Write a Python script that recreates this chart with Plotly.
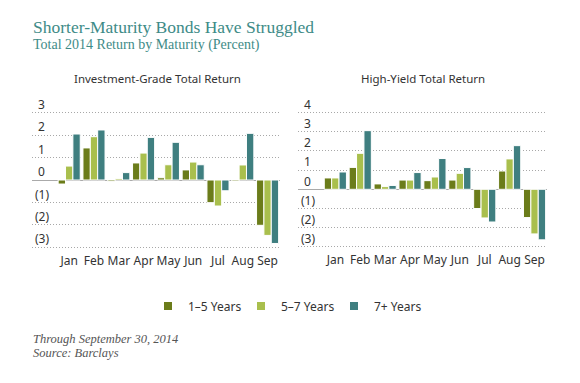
import plotly.graph_objects as go

months = ["Jan", "Feb", "Mar", "Apr", "May", "Jun", "Jul", "Aug", "Sep"]
series_names = ["1\u20135 Years", "5\u20137 Years", "7+ Years"]
colors = ["#6b7c1a", "#a9bf4d", "#3f7f80"]

ig_1_5 = [-0.18, 1.43, -0.06, 0.76, 0.10, 0.45, -1.01, -0.05, -2.02]
ig_5_7 = [0.62, 1.93, 0.07, 1.20, 0.68, 0.80, -1.16, 0.67, -2.47]
ig_7p = [2.05, 2.23, 0.33, 1.90, 1.68, 0.68, -0.48, 2.08, -2.83]

hy_1_5 = [0.59, 1.14, 0.28, 0.48, 0.45, 0.48, -1.00, 0.95, -1.47]
hy_5_7 = [0.59, 1.87, 0.14, 0.48, 0.64, 0.83, -1.49, 1.58, -2.32]
hy_7p = [0.90, 3.05, 0.20, 0.87, 1.60, 1.13, -1.70, 2.27, -2.63]

ig_ticks = [3, 2, 1, 0, -1, -2, -3]
hy_ticks = [4, 3, 2, 1, 0, -1, -2, -3]


def tick_text(v):
    return "(%d)" % abs(v) if v < 0 else "\u00a0%d" % v


# page is offset by the 8px body margin
OFF = 8
W, H = 580 - OFF, 383 - OFF


def px(x):
    return (x - OFF) / W


def py(y):
    return (H - (y - OFF)) / H


fig = go.Figure()

for i, (name, vals) in enumerate(zip(series_names, [ig_1_5, ig_5_7, ig_7p])):
    fig.add_trace(go.Bar(x=months, y=vals, name=name, marker=dict(color=colors[i], line=dict(color="white", width=1)),
                         showlegend=False, xaxis="x", yaxis="y"))
for i, (name, vals) in enumerate(zip(series_names, [hy_1_5, hy_5_7, hy_7p])):
    fig.add_trace(go.Bar(x=months, y=vals, name=name, marker=dict(color=colors[i], line=dict(color="white", width=1)),
                         showlegend=False, xaxis="x2", yaxis="y2"))
# legend entries
for i, name in enumerate(series_names):
    fig.add_trace(go.Scatter(x=[None], y=[None], mode="markers", name=name,
                             marker=dict(symbol="square", size=8, color=colors[i]),
                             xaxis="x", yaxis="y", showlegend=True))

tick_font = dict(family="Noto Sans", size=12, color="#333333")
grid = dict(showgrid=True, gridcolor="#a8a8a8", griddash="1px,2px", gridwidth=1,
            zeroline=True, zerolinecolor="#aaaaaa", zerolinewidth=1)

l_top, l_bot = 4.0, -3.2
r_top, r_bot = 5.0, -3.2
lz, lu = 180.0, 22.43
rz, ru = 189.3, 19.23

fig.update_layout(
    width=W, height=H, margin=dict(l=0, r=0, t=0, b=0),
    paper_bgcolor="white", plot_bgcolor="white",
    barmode="group", bargap=0.11, bargroupgap=0,
    xaxis=dict(domain=[px(32), px(280)], range=[-1.5, 8.5], anchor="y", showgrid=False, showline=False,
               tickfont=tick_font, ticks=""),
    yaxis=dict(domain=[py(lz - l_bot * lu), py(lz - l_top * lu)], range=[l_bot, l_top], anchor="x",
               tickvals=ig_ticks, ticktext=[tick_text(v) for v in ig_ticks],
               ticklabelposition="inside", ticklabelshift=-8,
               tickfont=tick_font, showline=False, ticks="", **grid),
    xaxis2=dict(domain=[px(298), px(547)], range=[-1.5, 8.5], anchor="y2", showgrid=False, showline=False,
                tickfont=tick_font, ticks=""),
    yaxis2=dict(domain=[py(rz - r_bot * ru), py(rz - r_top * ru)], range=[r_bot, r_top], anchor="x2",
                tickvals=hy_ticks, ticktext=[tick_text(v) for v in hy_ticks],
                ticklabelposition="inside", ticklabelshift=-8,
                tickfont=tick_font, showline=False, ticks="", **grid),
    legend=dict(orientation="h", x=px(148), y=py(306), xanchor="left", yanchor="middle",
                entrywidth=48, entrywidthmode="pixels", font=dict(family="Noto Sans", size=12, color="#333333"),
                itemclick=False, bgcolor="rgba(0,0,0,0)", tracegroupgap=0),
    showlegend=True,
)

serif = "Liberation Serif"
anns = [
    dict(text="Shorter-Maturity Bonds Have Struggled", x=px(31), y=py(39), xanchor="left", yanchor="bottom",
         font=dict(family=serif, size=17.5, color="#3e8b87")),
    dict(text="Total 2014 Return by Maturity (Percent)", x=px(31), y=py(55), xanchor="left", yanchor="bottom",
         font=dict(family=serif, size=14, color="#3e8b87")),
    dict(text="Investment-Grade Total Return", x=px(157), y=py(78.5), xanchor="center", yanchor="middle",
         font=dict(family="Noto Sans", size=11.5, color="#333333")),
    dict(text="High-Yield Total Return", x=px(422.5), y=py(78.5), xanchor="center", yanchor="middle",
         font=dict(family="Noto Sans", size=11.5, color="#333333")),
    dict(text="<i>Through September 30, 2014</i>", x=px(31), y=py(339), xanchor="left", yanchor="middle",
         font=dict(family=serif, size=12.5, color="#555555")),
    dict(text="<i>Source: Barclays</i>", x=px(31), y=py(353), xanchor="left", yanchor="middle",
         font=dict(family=serif, size=12.5, color="#555555")),
]
for a in anns:
    a.update(xref="paper", yref="paper", showarrow=False)
fig.update_layout(annotations=anns)

fig.write_html("out.html")
